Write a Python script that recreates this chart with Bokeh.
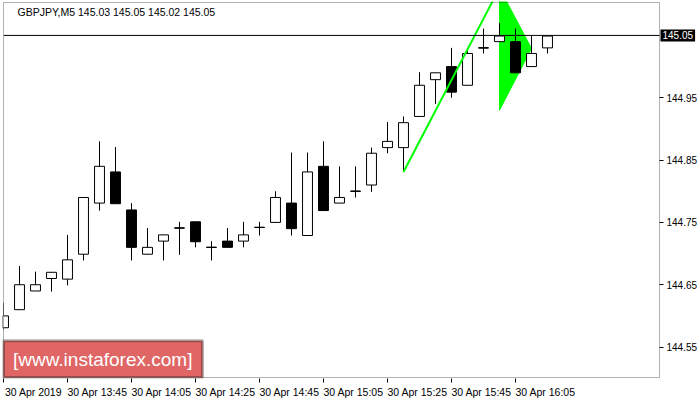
from bokeh.plotting import figure
from bokeh.models import FixedTicker, Range1d, Label, BoxAnnotation, PrintfTickFormatter
from bokeh.embed import file_html
from bokeh.resources import INLINE

# ---- data ----
title_text = "GBPJPY,M5  145.03 145.05 145.02 145.05"
opens = [144.581, 144.610, 144.640, 144.660, 144.659, 144.699, 144.781, 144.831, 144.770, 144.699,
         144.720, 144.741, 144.751, 144.710, 144.720, 144.720, 144.742, 144.750, 144.781, 144.729,
         144.840, 144.781, 144.800, 144.810, 144.870, 144.870, 144.920, 144.979, 145.000, 144.970,
         145.030, 145.040, 145.040, 145.000, 145.030]
highs = [144.621, 144.680, 144.671, 144.670, 144.730, 144.790, 144.880, 144.871, 144.781, 144.741,
         144.730, 144.751, 144.751, 144.720, 144.741, 144.751, 144.751, 144.800, 144.862, 144.862,
         144.880, 144.840, 144.840, 144.870, 144.911, 144.920, 144.991, 144.990, 145.030, 145.030,
         145.061, 145.070, 145.061, 145.049, 145.049]
lows = [144.578, 144.610, 144.640, 144.639, 144.649, 144.689, 144.769, 144.780, 144.689, 144.699,
        144.689, 144.698, 144.710, 144.689, 144.710, 144.710, 144.729, 144.750, 144.729, 144.729,
        144.769, 144.781, 144.790, 144.799, 144.861, 144.831, 144.920, 144.940, 144.950, 144.970,
        145.021, 145.040, 144.990, 145.000, 145.021]
closes = [144.600, 144.650, 144.650, 144.670, 144.690, 144.790, 144.840, 144.780, 144.710, 144.710,
          144.730, 144.741, 144.719, 144.710, 144.710, 144.730, 144.742, 144.790, 144.740, 144.831,
          144.769, 144.790, 144.800, 144.861, 144.880, 144.910, 144.970, 144.990, 144.959, 145.021,
          145.030, 145.049, 144.990, 145.021, 145.049]
time_tick_idx = [0, 4, 8, 12, 16, 20, 24, 28, 32]
time_tick_labels = ["30 Apr 2019", "30 Apr 13:45", "30 Apr 14:05", "30 Apr 14:25", "30 Apr 14:45",
                    "30 Apr 15:05", "30 Apr 15:25", "30 Apr 15:45", "30 Apr 16:05"]
price_ticks = [144.55, 144.65, 144.75, 144.85, 144.95]
last_price = 145.05
pole_x = [25, 31]
pole_y = [144.831, 145.126]
flag_x = [31, 31, 33]
flag_y = [145.126, 144.930, 145.029]
watermark_text = "[www.instaforex.com]"

FONT = "Liberation Sans"

# chart box (in data units) and the wider drawing frame that also holds the price scale
box_left, box_right = 0, 41
box_bottom, box_top = 144.5012, 145.1028
x_start, x_end = -0.0625, 43.5625
y_start, y_end = 144.4996, 145.1044

p = figure(width=700, height=400, output_backend="svg", toolbar_location=None,
           x_range=Range1d(x_start, x_end), y_range=Range1d(y_start, y_end),
           y_axis_location="right",
           min_border_left=2, min_border_top=1, min_border_right=0, min_border_bottom=21)
p.background_fill_color = "white"
p.border_fill_color = "white"
p.outline_line_color = None
p.xgrid.visible = False
p.ygrid.visible = False

# y axis drawn at the right edge of the chart box
ya = p.yaxis[0]
ya.fixed_location = box_right
ya.ticker = FixedTicker(ticks=price_ticks)
ya.formatter = PrintfTickFormatter(format="%.2f")
ya.axis_line_color = None
ya.major_tick_in = 0
ya.major_tick_out = 4
ya.major_tick_line_color = "black"
ya.minor_tick_line_color = None
ya.major_label_standoff = 3
ya.major_label_text_font = FONT
ya.major_label_text_font_size = "10px"
ya.major_label_text_color = "black"

# x axis: tick marks as minor ticks at candle positions, labels shifted to be left aligned
shift = 1.875
xa = p.xaxis[0]
xa.ticker = FixedTicker(ticks=[t + shift for t in time_tick_idx], minor_ticks=time_tick_idx)
xa.major_label_overrides = {t + shift: lab for t, lab in zip(time_tick_idx, time_tick_labels)}
xa.axis_line_color = None
xa.major_tick_line_color = None
xa.major_tick_in = 0
xa.major_tick_out = 0
xa.minor_tick_line_color = "black"
xa.minor_tick_in = 0
xa.minor_tick_out = 4
xa.major_label_standoff = 3
xa.major_label_text_font = FONT
xa.major_label_text_font_size = "10.5px"
xa.major_label_text_color = "black"

# pennant pattern
p.patch(flag_x, flag_y, fill_color="#00FF00", line_color="#00FF00", line_width=1)

# candles
idx = list(range(len(opens)))
tops = [max(o, c) for o, c in zip(opens, closes)]
bots = [min(o, c) for o, c in zip(opens, closes)]
fills = ["white" if c >= o else "black" for o, c in zip(opens, closes)]
p.segment(idx, highs, idx, lows, line_color="black", line_width=1)
p.vbar(x=idx, width=0.62, top=tops, bottom=bots, fill_color=fills, line_color="black", line_width=1)
doji = [i for i in idx if opens[i] == closes[i]]
p.segment([i - 0.31 for i in doji], [opens[i] for i in doji],
          [i + 0.31 for i in doji], [opens[i] for i in doji], line_color="black", line_width=1)

p.line(pole_x, pole_y, line_color="#00FF00", line_width=2)

# white cover left of the chart box (hides the left half of the first candle)
p.add_layout(BoxAnnotation(left=x_start, right=box_left, bottom=y_start, top=y_end,
                           fill_color="white", fill_alpha=1, line_color=None))

# last price line
p.segment([box_left], [last_price], [box_right], [last_price], line_color="black", line_width=1,
          level="annotation")

# chart box border
p.add_layout(BoxAnnotation(left=box_left, right=box_right, bottom=box_bottom, top=box_top,
                           fill_alpha=0, line_color="black", line_width=1))

# title
p.add_layout(Label(x=box_left + 0.875, y=145.088, text=title_text, text_font=FONT,
                   text_font_size="10.5px", text_color="black", text_baseline="middle"))

# last price marker on the price scale
p.add_layout(Label(x=box_right, y=last_price, x_offset=1, text=f"{last_price:.2f}", text_font=FONT,
                   text_font_size="10px", text_color="white", text_baseline="middle",
                   background_fill_color="black", padding=2))

# watermark
p.add_layout(BoxAnnotation(left=box_left, right=12.44, bottom=box_bottom, top=144.560,
                           fill_color="#E06666", fill_alpha=1.0, line_color="black", line_width=3))
p.add_layout(Label(x=6.2, y=(box_bottom + 144.560) / 2, text=watermark_text, text_font=FONT,
                   text_font_size="19px", text_color="white", text_align="center",
                   text_baseline="middle"))

open("out.html", "w").write(file_html(p, INLINE))
